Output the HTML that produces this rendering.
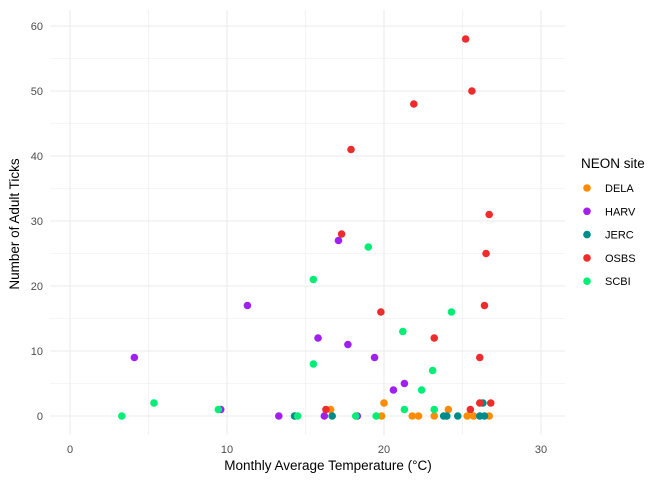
<!DOCTYPE html>
<html><head><meta charset="utf-8"><style>
body{margin:0;background:#fff;font-family:"Liberation Sans",sans-serif}
text{font-family:"Liberation Sans",sans-serif}
</style></head><body>
<svg id="c" width="672" height="480"></svg>
<script>
const sites=["DELA","HARV","JERC","OSBS","SCBI"];
const colors=["#ff8c00","#a020f0","#008b8b","#ee2c2c","#00ee76"];
const delaTemp=[16.6,19.85,20.0,21.8,22.2,23.2,24.1,25.3,25.7,26.7];
const delaTicks=[1,0,2,0,0,0,1,0,0,0];
const harvTemp=[4.1,9.6,11.3,13.3,15.8,16.2,17.1,17.7,18.3,19.4,20.6,21.3];
const harvTicks=[9,1,17,0,12,0,27,11,0,9,4,5];
const jercTemp=[14.3,16.7,23.8,24.0,24.7,26.1,26.4,26.3];
const jercTicks=[0,0,0,0,0,0,0,2];
const osbsTemp=[16.3,17.3,17.9,19.8,21.9,23.2,25.2,25.5,25.6,26.1,26.1,26.4,26.5,26.7,26.8];
const osbsTicks=[1,28,41,16,48,12,58,1,50,9,2,17,25,31,2];
const scbiTemp=[3.3,5.35,9.45,14.5,15.5,15.5,18.2,19.0,19.5,21.2,21.3,22.4,23.1,23.2,24.3];
const scbiTicks=[0,2,1,0,21,8,0,26,0,13,1,4,7,1,16];
const xTicks=[0,10,20,30];
const yTicks=[0,10,20,30,40,50,60];
const NS="http://www.w3.org/2000/svg";
const svg=document.getElementById('c');
const X=v=>70+v*15.7, Y=v=>416-v*6.5;
function mk(t,a){const e=document.createElementNS(NS,t);for(const k in a)e.setAttribute(k,a[k]);svg.appendChild(e);return e;}
const L=50,R=565,T=10,B=435;
for(let v=-5;v<=35;v+=5){if(X(v)<L||X(v)>R)continue;const l=mk('line',{x1:X(v),x2:X(v),y1:T,y2:B,stroke:'#ebebeb','stroke-width':v%10?0.6:1.1});

}
for(let v=-5;v<=65;v+=5){if(Y(v)<T||Y(v)>B)continue;const l=mk('line',{x1:L,x2:R,y1:Y(v),y2:Y(v),stroke:'#ebebeb','stroke-width':v%10?0.6:1.1});

}
xTicks.forEach(v=>{const t=mk('text',{x:X(v),y:453,'text-anchor':'middle','font-size':11,fill:'#4d4d4d'});t.textContent=v;

});
yTicks.forEach(v=>{const t=mk('text',{x:43,y:Y(v)+4,'text-anchor':'end','font-size':11,fill:'#4d4d4d'});t.textContent=v;

});
const data=[[delaTemp,delaTicks],[harvTemp,harvTicks],[jercTemp,jercTicks],[osbsTemp,osbsTicks],[scbiTemp,scbiTicks]];
data.forEach((d,i)=>{d[0].forEach((t,j)=>{const c=mk('circle',{cx:X(t),cy:Y(d[1][j]),r:3.8,fill:colors[i]});

});});
let t=mk('text',{x:328,y:470,'text-anchor':'middle','font-size':13.5,fill:'#000'});t.textContent='Monthly Average Temperature (°C)';


t=mk('text',{x:0,y:0,'text-anchor':'middle','font-size':13.5,fill:'#000',transform:'translate(19,224) rotate(-90)'});t.textContent='Number of Adult Ticks';


t=mk('text',{x:581,y:168,'font-size':13.5,fill:'#000'});t.textContent='NEON site';


sites.forEach((s,i)=>{const y=188+i*23.3;
const c=mk('circle',{cx:587,cy:y,r:3.8,fill:colors[i]});


const tx=mk('text',{x:605,y:y+4,'font-size':11,fill:'#000'});tx.textContent=s;

});
</script>
</body></html>
